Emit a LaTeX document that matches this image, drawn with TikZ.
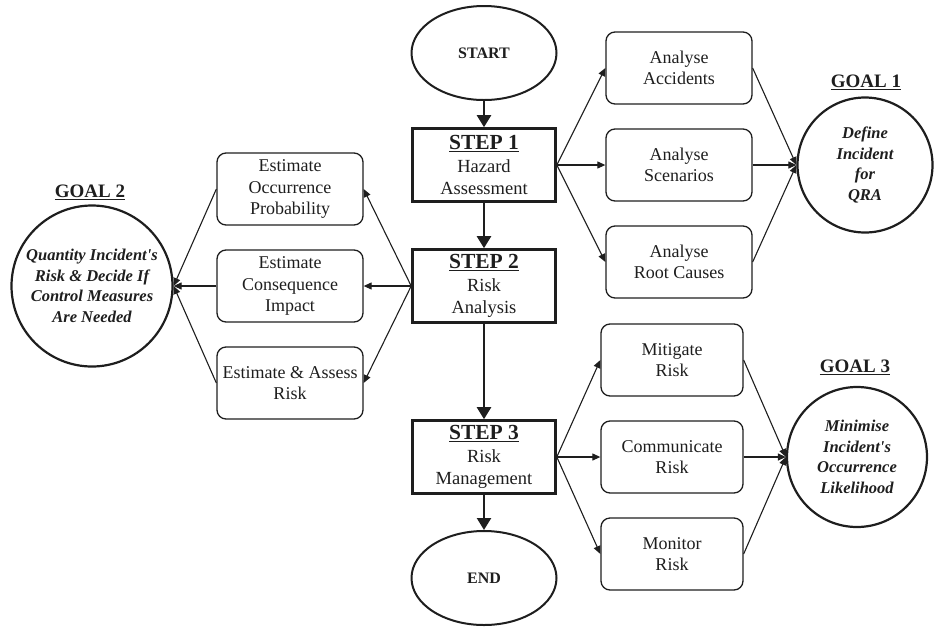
\documentclass[tikz,border=0pt]{standalone}
\usepackage{fontspec}
\setmainfont{Liberation Serif}
\usetikzlibrary{arrows.meta,shapes.geometric}
\definecolor{ink}{HTML}{1E1E1E}
\tikzset{
  task/.style={draw=ink, line width=1.3pt, rounded corners=9pt, minimum width=146pt,
    minimum height=72pt, align=center, inner sep=0pt, text=ink,
    font=\fontsize{18}{21.5}\selectfont},
  stepbox/.style={draw=ink, line width=2.6pt, minimum width=143pt, minimum height=73pt,
    align=center, inner sep=0pt, text=ink, font=\fontsize{18.5}{22.5}\selectfont},
  terminal/.style={draw=ink, ellipse, line width=2pt, minimum width=145pt,
    minimum height=94pt, inner sep=0pt, text=ink, font=\fontsize{16}{19}\selectfont\bfseries},
  goal/.style={draw=ink, circle, line width=2.2pt, inner sep=0pt, align=center, text=ink,
    font=\fontsize{16.5}{20.5}\selectfont\bfseries\itshape},
  goallabel/.style={text=ink, inner sep=0pt, font=\fontsize{19}{22}\selectfont\bfseries},
  flow/.style={draw=ink, line width=1.1pt, -{Triangle[length=8pt,width=7pt]}},
  mainflow/.style={draw=ink, line width=2.3pt, -{Triangle[length=12pt,width=14pt]}},
}
\newcommand{\steptitle}[1]{\underline{\fontsize{21.5}{24}\selectfont\bfseries #1}}
\begin{document}
\begin{tikzpicture}[x=1pt,y=-1pt]
\useasboundingbox (0,0) rectangle (935,630);

% main column
\node[terminal] (start) at (484,53) {START};
\node[stepbox] (s1) at (484,165) {\steptitle{STEP 1}\\Hazard\\Assessment};
\node[stepbox] (s2) at (484,286) {\steptitle{STEP 2}\\Risk\\Analysis};
\node[stepbox] (s3) at (484,457) {\steptitle{STEP 3}\\Risk\\Management};
\node[terminal] (end) at (484,578) {END};

\draw[mainflow] (start) -- (s1);
\draw[mainflow] (s1) -- (s2);
\draw[mainflow] (s2) -- (s3);
\draw[mainflow] (s3) -- (end);

% step 1 branch
\node[task] (acc) at (679,68) {Analyse\\Accidents};
\node[task] (scen) at (679,165) {Analyse\\Scenarios};
\node[task] (root) at (679,262) {Analyse\\Root Causes};
\node[goal, minimum size=135pt] (g1) at (865,165) {Define\\Incident\\for\\QRA};
\node[goallabel] (g1l) at (866,82) {\underline{GOAL 1}};
\foreach \b in {acc,scen,root}{
  \draw[flow] (s1.east) -- (\b.west);
  \draw[flow] (\b.east) -- (g1.west);
}

% step 2 branch
\node[task] (prob) at (290,189) {Estimate\\Occurrence\\Probability};
\node[task] (cons) at (290,286) {Estimate\\Consequence\\Impact};
\node[task] (asr) at (290,383) {Estimate \& Assess\\Risk};
\node[goal, minimum size=161pt] (g2) at (92,286)
  {Quantity Incident\textquotesingle s\\Risk \& Decide If\\Control Measures\\Are Needed};
\node[goallabel] (g2l) at (90,192) {\underline{GOAL 2}};
\foreach \b in {prob,cons,asr}{
  \draw[flow] (s2.west) -- (\b.east);
  \draw[flow] (\b.west) -- (g2.east);
}

% step 3 branch
\node[task, minimum width=142pt] (mit) at (672,360) {Mitigate\\Risk};
\node[task, minimum width=142pt] (com) at (672,457) {Communicate\\Risk};
\node[task, minimum width=142pt] (mon) at (672,554) {Monitor\\Risk};
\node[goal, minimum size=140pt] (g3) at (857,457)
  {Minimise\\Incident\textquotesingle s\\Occurrence\\Likelihood};
\node[goallabel] (g3l) at (855,367) {\underline{GOAL 3}};
\foreach \b in {mit,com,mon}{
  \draw[flow] (s3.east) -- (\b.west);
  \draw[flow] (\b.east) -- (g3.west);
}
\end{tikzpicture}
\end{document}
